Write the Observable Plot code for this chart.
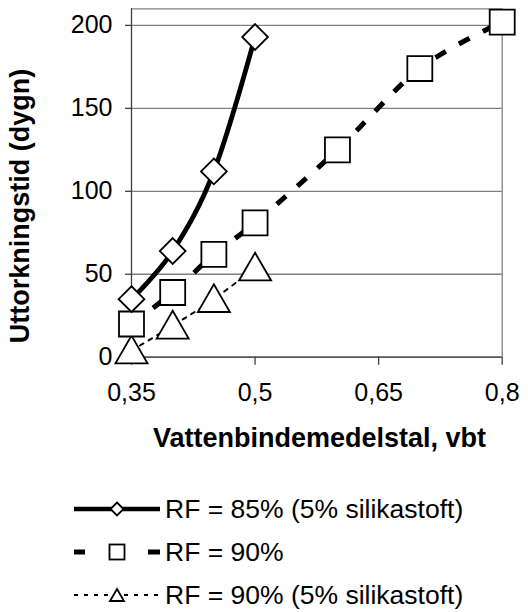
<!DOCTYPE html>
<html><head><meta charset="utf-8">
<script src="https://cdn.jsdelivr.net/npm/d3@7"></script>
<script src="https://cdn.jsdelivr.net/npm/@observablehq/plot@0.6"></script>
<style>body{margin:0;background:#fff;font-family:"Liberation Sans",Arial,sans-serif}#chart svg{display:block}</style>
</head><body><div id="chart"></div>
<script>
const vbt85 = [0.35, 0.4, 0.45, 0.5];
const dygn85 = [35, 64, 112, 193];
const vbt90 = [0.35, 0.4, 0.45, 0.5, 0.6, 0.7, 0.8];
const dygn90 = [20, 39, 62, 81, 125, 174, 202];
const vbt90s = [0.35, 0.4, 0.45, 0.5];
const dygn90s = [4, 19, 35, 54];
const xTicks = [0.35, 0.5, 0.65, 0.8];
const yTicks = [0, 50, 100, 150, 200];
const seriesNames = ["RF = 85% (5% silikastoft)", "RF = 90%", "RF = 90% (5% silikastoft)"];
const xTitle = "Vattenbindemedelstal, vbt";
const yTitle = "Uttorkningstid (dygn)";

const s1 = vbt85.map((x, i) => ({x, y: dygn85[i]}));
const s2 = vbt90.map((x, i) => ({x, y: dygn90[i]}));
const s3 = vbt90s.map((x, i) => ({x, y: dygn90s[i]}));
const fmt = d => String(d).replace(".", ",");
const font = "'Liberation Sans', Arial, sans-serif";

const plot = Plot.plot({
  width: 528, height: 460,
  marginLeft: 131, marginRight: 26.3, marginTop: 8.3, marginBottom: 103.3,
  style: {fontFamily: font, fontSize: "25px", color: "#000", background: "#fff", overflow: "visible"},
  x: {domain: [0.35, 0.8]},
  y: {domain: [0, 210]},
  marks: [
    Plot.gridY(yTicks, {stroke: "#808080", strokeOpacity: 1, strokeWidth: 1.3}),
    Plot.ruleY([210], {stroke: "#808080", strokeWidth: 1.3}),
    Plot.ruleX([0.8], {stroke: "#808080", strokeWidth: 1.3}),
    Plot.axisX({ticks: xTicks, tickFormat: fmt, tickSize: 8, tickPadding: 18, label: null, stroke: "#404040", strokeWidth: 1.3, fontSize: 25}),
    Plot.axisY({ticks: yTicks, tickSize: 6, tickPadding: 13, label: null, stroke: "#404040", strokeWidth: 1.3, fontSize: 25}),
    Plot.ruleX([0.35], {stroke: "#404040", strokeWidth: 1.3}),
    Plot.ruleY([0], {stroke: "#404040", strokeWidth: 1.3}),
    Plot.line(s3, {x: "x", y: "y", stroke: "black", strokeWidth: 2, strokeDasharray: "4,6", curve: "cardinal"}),
    Plot.line(s2, {x: "x", y: "y", stroke: "black", strokeWidth: 5, strokeDasharray: "12,15", curve: "cardinal", strokeLinecap: "butt"}),
    Plot.line(s1, {x: "x", y: "y", stroke: "black", strokeWidth: 4.8, curve: "cardinal"}),
    Plot.dot(s3, {x: "x", y: "y", symbol: "triangle", r: 11.9, dy: 3.6, fill: "white", stroke: "black", strokeWidth: 1.8}),
    Plot.dot(s2, {x: "x", y: "y", symbol: "square", r: 14.1, fill: "white", stroke: "black", strokeWidth: 1.8}),
    Plot.dot(s1, {x: "x", y: "y", symbol: "diamond2", r: 11.6, fill: "white", stroke: "black", strokeWidth: 1.8}),
    Plot.text([yTitle], {frameAnchor: "left", dx: -111, dy: 23, rotate: -90, textAnchor: "middle", lineAnchor: "middle", fontSize: 27, fontWeight: "bold", fill: "black"}),
    Plot.text([xTitle], {frameAnchor: "bottom", dx: 2.7, dy: 81.3, textAnchor: "middle", lineAnchor: "middle", fontSize: 27, fontWeight: "bold", fill: "black"})
  ]
});
document.getElementById("chart").appendChild(plot);

// Legend
const leg = d3.select("#chart").append("svg").attr("width", 528).attr("height", 152).style("display", "block");
const rows = [49, 92, 135];
const x0 = 74, x1 = 160, xm = 117;
// row 1
leg.append("line").attr("x1", x0).attr("x2", x1).attr("y1", rows[0]).attr("y2", rows[0]).attr("stroke", "black").attr("stroke-width", 4.5);
leg.append("path").attr("d", `M${xm},${rows[0]-6.5}L${xm+6.5},${rows[0]}L${xm},${rows[0]+6.5}L${xm-6.5},${rows[0]}Z`).attr("fill", "white").attr("stroke", "black").attr("stroke-width", 1.8);
// row 2
leg.append("line").attr("x1", x0).attr("x2", x0 + 11).attr("y1", rows[1]).attr("y2", rows[1]).attr("stroke", "black").attr("stroke-width", 5);
leg.append("line").attr("x1", x1 - 12).attr("x2", x1).attr("y1", rows[1]).attr("y2", rows[1]).attr("stroke", "black").attr("stroke-width", 5);
leg.append("rect").attr("x", xm - 7.5).attr("y", rows[1] - 7.5).attr("width", 15).attr("height", 15).attr("fill", "white").attr("stroke", "black").attr("stroke-width", 1.8);
// row 3
leg.append("line").attr("x1", x0).attr("x2", x1).attr("y1", rows[2]).attr("y2", rows[2]).attr("stroke", "black").attr("stroke-width", 2).attr("stroke-dasharray", "4,6");
leg.append("path").attr("d", `M${xm},${rows[2]-6}L${xm+7},${rows[2]+6}L${xm-7},${rows[2]+6}Z`).attr("fill", "white").attr("stroke", "black").attr("stroke-width", 1.8);
leg.selectAll("text.lab").data(seriesNames).join("text")
  .attr("x", 165).attr("y", (d, i) => rows[i]).attr("dy", "0.35em")
  .attr("font-family", font).attr("font-size", 26.5).attr("fill", "black").text(d => d);
</script></body></html>
